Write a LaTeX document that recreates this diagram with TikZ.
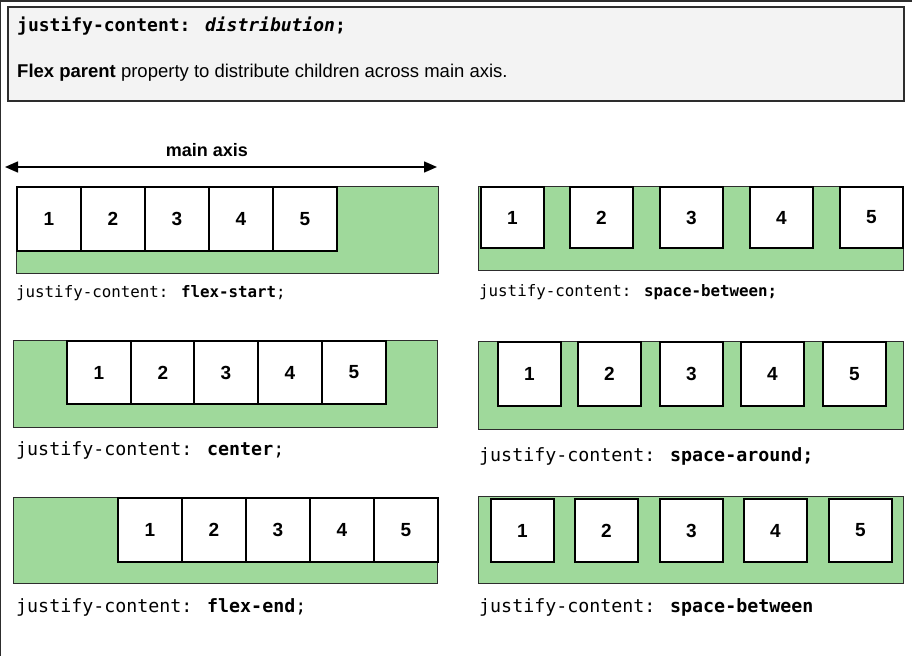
\documentclass[tikz,border=0pt]{standalone}
\usepackage{fontspec}
\setmainfont{Liberation Sans}
\newfontfamily\mono{DejaVu Sans Mono}
\usetikzlibrary{arrows.meta}
\definecolor{flexgreen}{RGB}{159,217,155}
\definecolor{hdrgray}{RGB}{243,243,243}
\definecolor{edgegray}{RGB}{45,45,45}
\tikzset{
  container/.style={draw=edgegray, line width=1.4pt, fill=flexgreen, inner sep=0pt},
  item/.style={draw=black, line width=2pt, fill=white, inner sep=0pt,
    font=\fontsize{19}{21}\selectfont\bfseries},
  caption/.style={anchor=base west, inner sep=0pt},
  capsmall/.style={caption, font=\mono\fontsize{15.8}{18}\selectfont},
  capbig/.style={caption, font=\mono\fontsize{18.3}{20}\selectfont},
}
\begin{document}
\begin{tikzpicture}[x=1pt,y=-1pt]
\useasboundingbox (0,0) rectangle (918,656);
% outer frame (top and left edges)
\draw[line width=2pt, edgegray] (0,656) -- (0,1) -- (912,1);
% header
\node[draw=edgegray, line width=1.8pt, fill=hdrgray, minimum width=896pt, minimum height=94pt, anchor=north west, inner sep=0pt] (hdr) at (7,6) {};
\node[anchor=base west, inner sep=0pt, font=\mono\fontsize{18}{20}\selectfont\bfseries] (hdrcode) at (17,31) {justify-content: \textit{distribution};};
\node[anchor=base west, inner sep=0pt, font=\fontsize{18.5}{21}\selectfont] (hdrtext) at (17,77) {\textbf{Flex parent} property to distribute children across main axis.};
% main axis
\coordinate (axl) at (5,167);
\coordinate (axr) at (437,167);
\draw[line width=1.5pt, {Triangle[length=13pt,width=11pt]}-{Triangle[length=13pt,width=11pt]}] (axl) -- (axr);
\node[anchor=base, inner sep=0pt, font=\fontsize{18}{20}\selectfont\bfseries] (axlabel) at (207,156) {main axis};
% containers
\node[container, minimum width=422pt, minimum height=87pt, anchor=north west] (g1) at (16,186) {};
\node[container, minimum width=425pt, minimum height=84pt, anchor=north west] (g2) at (478,186) {};
\node[container, minimum width=424pt, minimum height=87pt, anchor=north west] (g3) at (13,340) {};
\node[container, minimum width=425pt, minimum height=88pt, anchor=north west] (g4) at (478,341) {};
\node[container, minimum width=424pt, minimum height=86pt, anchor=north west] (g5) at (13,497) {};
\node[container, minimum width=425pt, minimum height=87pt, anchor=north west] (g6) at (478,496) {};
% items
\foreach \l [count=\i] in {16,80,144,208,272}
  \node[item, minimum width=64pt, minimum height=64pt, anchor=north west] (a\i) at (\l,186) {\i};
\foreach \l [count=\i] in {480,569,659,749,839}
  \node[item, minimum width=63pt, minimum height=61pt, anchor=north west] (b\i) at (\l,186) {\i};
\foreach \l [count=\i] in {66,130,193,257,321}
  \node[item, minimum width=64pt, minimum height=63pt, anchor=north west] (c\i) at (\l,340) {\i};
\foreach \l [count=\i] in {497,577,659,740,822}
  \node[item, minimum width=63pt, minimum height=64pt, anchor=north west] (d\i) at (\l,341) {\i};
\foreach \l [count=\i] in {117,181,245,309,373}
  \node[item, minimum width=64pt, minimum height=64pt, anchor=north west] (e\i) at (\l,497) {\i};
\foreach \l [count=\i] in {490,574,659,743,828}
  \node[item, minimum width=63pt, minimum height=63pt, anchor=north west] (f\i) at (\l,498) {\i};
% captions
\node[capsmall] (cap1) at (16,297) {justify-content: \textbf{flex-start};};
\node[capsmall] (cap2) at (479,296) {justify-content: \textbf{space-between;}};
\node[capbig] (cap3) at (16,455) {justify-content: \textbf{center};};
\node[capbig] (cap4) at (479,461) {justify-content: \textbf{space-around;}};
\node[capbig] (cap5) at (16,612) {justify-content: \textbf{flex-end};};
\node[capbig] (cap6) at (479,612) {justify-content: \textbf{space-between}};
\end{tikzpicture}
\end{document}
